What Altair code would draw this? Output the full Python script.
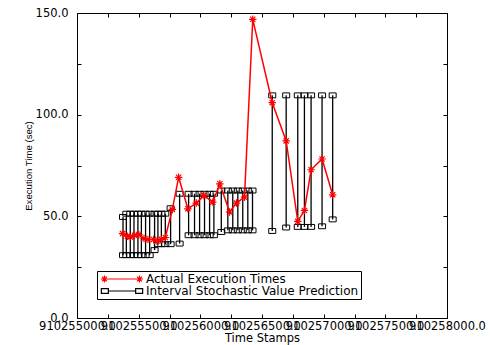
import altair as alt
import pandas as pd

# ---- data ----
ts_actual = [910255370, 910255408, 910255432, 910255467, 910255502, 910255543,
             910255575, 910255621, 910255648, 910255684, 910255716, 910255773,
             910255824, 910255899, 910255967, 910256029, 910256101, 910256158,
             910256237, 910256293, 910256358, 910256425, 910256583, 910256696,
             910256790, 910256844, 910256898, 910256987, 910257073]
exec_time = [41.5, 40.2, 39.9, 40.7, 41.0, 39.1,
             38.6, 38.6, 37.8, 38.7, 39.6, 53.4,
             69.2, 53.7, 56.5, 60.2, 57.0, 66.0,
             52.1, 56.5, 59.4, 146.9, 105.9, 87.1,
             47.5, 52.9, 72.9, 78.2, 60.6]

ts_pred = [910255373, 910255400, 910255432, 910255462, 910255494, 910255522,
           910255556, 910255589, 910255629, 910255656, 910255684, 910255716,
           910255759, 910255832, 910255905, 910255953, 910255994, 910256034,
           910256075, 910256110, 910256170, 910256223, 910256263, 910256304,
           910256344, 910256385, 910256423, 910256583, 910256696, 910256790,
           910256844, 910256898, 910256987, 910257073]
pred_low = [30.9, 30.9, 30.9, 30.9, 30.9, 30.9,
            30.9, 30.9, 33.4, 36.3, 36.3, 36.3,
            36.3, 36.6, 40.7, 40.7, 40.7, 40.7,
            40.7, 40.7, 42.3, 43.1, 43.1, 43.1,
            43.1, 43.1, 43.1, 42.8, 44.5, 44.8,
            44.8, 44.8, 45.1, 48.5]
pred_high = [49.7, 51.3, 51.3, 51.3, 51.3, 51.3,
             51.3, 51.3, 51.3, 51.3, 51.3, 51.3,
             54.0, 61.1, 61.1, 61.1, 61.1, 61.1,
             61.1, 61.1, 62.7, 62.7, 62.7, 62.7,
             62.7, 62.7, 62.7, 109.5, 109.5, 109.5,
             109.5, 109.5, 109.5, 109.5]

series_names = ["Actual Execution Times", "Interval Stochastic Value Prediction"]
series_colors = ["red", "black"]
x_ticks = [910255000, 910255250, 910255500, 910255750, 910256000, 910256250,
           910256500, 910256750, 910257000, 910257250, 910257500, 910257750,
           910258000]
y_ticks = [0, 25, 50, 75, 100, 125, 150]

actual_df = pd.DataFrame({"ts": ts_actual, "t": exec_time})
pred_df = pd.DataFrame({"ts": ts_pred, "low": pred_low, "high": pred_high})
legend_df = pd.DataFrame({"series": series_names,
                          "ts": [ts_actual[0], ts_actual[0]],
                          "t": [exec_time[0], exec_time[0]]})

# ---- symbols ----
ASTER = "M0,-1V1M-1,0H1M-0.7,-0.7L0.7,0.7M-0.7,0.7L0.7,-0.7"
BOX = "M-1,-0.7H1V0.7H-1Z"
LEG_ACT = ("M-5.7,0H5.7"
           "M-5,-1V1M-6,0H-4M-5.7,-0.7L-4.3,0.7M-5.7,0.7L-4.3,-0.7"
           "M5,-1V1M4,0H6M4.3,-0.7L5.7,0.7M4.3,0.7L5.7,-0.7")
LEG_PRED = "M-3.9,0H3.9M-5.9,-0.7H-3.9V0.7H-5.9ZM3.9,-0.7H5.9V0.7H3.9Z"

FONT = "DejaVu Sans"

xscale = alt.Scale(domain=[910255000, 910258000], nice=False, zero=False)
yscale = alt.Scale(domain=[0, 150], nice=False, zero=False)

x_main_axis = alt.Axis(
    orient="bottom", values=x_ticks,
    labelExpr="datum.value % 500 == 0 ? format(datum.value, '.1f') : ''",
    title="Time Stamps", domain=False, grid=False, offset=-4, tickSize=4,
    tickColor="black", tickWidth=1, labelPadding=2, labelFont=FONT,
    labelFontSize=11.5, labelColor="black", labelOverlap=False,
    labelFlush=False, labelBound=False,
    titleFont=FONT, titleFontSize=11.5, titleFontWeight="normal",
    titleColor="black", titlePadding=1)
y_main_axis = alt.Axis(
    orient="left", values=y_ticks,
    labelExpr="datum.value % 50 == 0 ? format(datum.value, '.1f') : ''",
    title="Execution Time (sec)", domain=False, grid=False, offset=-4,
    tickSize=4, tickColor="black", tickWidth=1, labelPadding=9,
    labelFont=FONT, labelFontSize=11.5, labelColor="black",
    labelOverlap=False,
    titleFont="Liberation Sans", titleFontSize=9.6,
    titleFontWeight="normal", titleColor="black", titlePadding=2)
x_top_axis = alt.Axis(orient="top", values=x_ticks, labels=False, title=None,
                      domain=False, grid=False, offset=-4, tickSize=4,
                      tickColor="black", tickWidth=1)
y_right_axis = alt.Axis(orient="right", values=y_ticks, labels=False,
                        title=None, domain=False, grid=False, offset=-4,
                        tickSize=4, tickColor="black", tickWidth=1)

rules = alt.Chart(pred_df).mark_rule(color="black", strokeWidth=1.3).encode(
    x=alt.X("ts:Q", scale=xscale, axis=x_top_axis),
    y=alt.Y("low:Q", scale=yscale, axis=y_right_axis),
    y2="high:Q")
low_boxes = alt.Chart(pred_df).mark_point(
    shape=BOX, size=49, color="black", filled=False, strokeWidth=1,
    opacity=1).encode(
    x=alt.X("ts:Q", scale=xscale, axis=None),
    y=alt.Y("low:Q", scale=yscale, axis=None))
high_boxes = alt.Chart(pred_df).mark_point(
    shape=BOX, size=49, color="black", filled=False, strokeWidth=1,
    opacity=1).encode(
    x=alt.X("ts:Q", scale=xscale, axis=None),
    y=alt.Y("high:Q", scale=yscale, axis=None))
line = alt.Chart(actual_df).mark_line(color="red", strokeWidth=1.5).encode(
    x=alt.X("ts:Q", scale=xscale, axis=x_main_axis),
    y=alt.Y("t:Q", scale=yscale, axis=y_main_axis))
stars = alt.Chart(actual_df).mark_point(
    shape=ASTER, size=56, color="red", filled=False, strokeWidth=1.2,
    opacity=1).encode(
    x=alt.X("ts:Q", scale=xscale, axis=None),
    y=alt.Y("t:Q", scale=yscale, axis=None))

leg = alt.Legend(title=None, orient="none", legendX=20, legendY=258,
                 direction="vertical", strokeColor="black", fillColor="white",
                 padding=2, symbolSize=49, symbolStrokeWidth=1.2,
                 symbolFillColor="transparent", symbolOpacity=1,
                 symbolOffset=17, labelOffset=18, labelFont=FONT,
                 labelFontSize=12, labelColor="black", labelLimit=400,
                 rowPadding=-4, cornerRadius=0)
legend_layer = alt.Chart(legend_df).mark_point(
    opacity=0, filled=False, size=49).encode(
    x=alt.X("ts:Q", scale=xscale, axis=None),
    y=alt.Y("t:Q", scale=yscale, axis=None),
    color=alt.Color("series:N", scale=alt.Scale(domain=series_names,
                                                range=series_colors),
                    legend=leg),
    shape=alt.Shape("series:N", scale=alt.Scale(domain=series_names,
                                                range=[LEG_ACT, LEG_PRED]),
                    legend=leg))

chart = alt.layer(rules, low_boxes, high_boxes, line, stars, legend_layer).properties(
    width=370, height=305,
    padding={"left": 77, "top": 13, "right": 43, "bottom": 27},
    autosize=alt.AutoSizeParams(type="none"),
    background="white",
).configure_view(stroke="black", strokeWidth=1)

chart.save("out.html", embed_options={"renderer": "svg", "actions": False})
